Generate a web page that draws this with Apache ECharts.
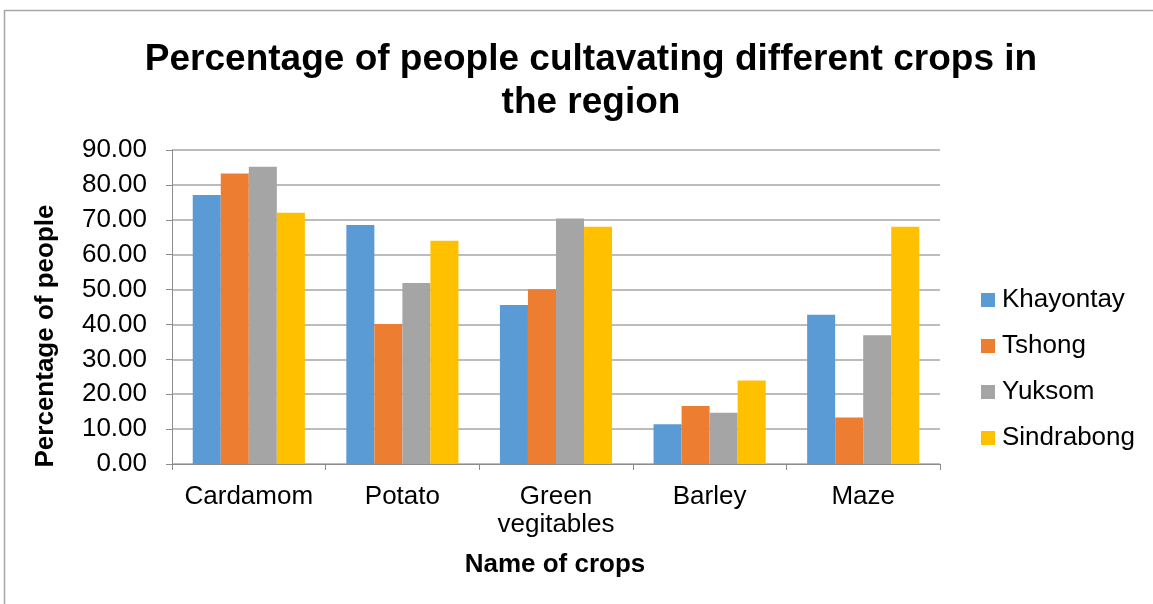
<!DOCTYPE html>
<html>
<head>
<meta charset="utf-8">
<script src="https://cdn.jsdelivr.net/npm/echarts@6/dist/echarts.min.js"></script>
<style>
  html, body { margin: 0; padding: 0; background: #fff; }
  #chart { width: 1153px; height: 604px; }
</style>
</head>
<body>
<div id="chart"></div>
<script>
// Crops surveyed and share of people growing each, by village
const crops = ['Cardamom', 'Potato', 'Green\nvegitables', 'Barley', 'Maze'];
const khayontay = [77.1, 68.5, 45.6, 11.4, 42.8];
const tshong = [83.3, 40.1, 50.1, 16.6, 13.3];
const yuksom = [85.2, 51.9, 70.4, 14.7, 36.9];
const sindrabong = [72.0, 64.0, 68.0, 23.9, 68.0];

const seriesNames = ['Khayontay', 'Tshong', 'Yuksom', 'Sindrabong'];
const seriesData = [khayontay, tshong, yuksom, sindrabong];
const colors = ['#5B9BD5', '#ED7D31', '#A5A5A5', '#FFC000'];

const font = '"Liberation Sans", Arial, sans-serif';
const chart = echarts.init(document.getElementById('chart'));

chart.setOption({
  animation: false,
  backgroundColor: '#fff',
  color: colors,
  title: {
    text: 'Percentage of people cultavating different crops in\nthe region',
    left: 586,
    textAlign: 'center',
    top: 33,
    textStyle: {
      fontFamily: font, fontSize: 37, fontWeight: 'bold', color: '#000', lineHeight: 43
    }
  },
  legend: {
    orient: 'vertical',
    left: 976,
    top: 280,
    itemWidth: 14,
    itemHeight: 14,
    itemGap: 16,
    icon: 'rect',
    textStyle: { fontFamily: font, fontSize: 26, color: '#000', padding: [0, 0, 0, 2], lineHeight: 30 },
    data: seriesNames
  },
  grid: { left: 172, right: 213, top: 150, bottom: 140, containLabel: false },
  xAxis: {
    type: 'category',
    data: crops,
    axisLine: { lineStyle: { color: '#8c8c8c', width: 1 } },
    axisTick: { show: true, length: 6, lineStyle: { color: '#8c8c8c' } },
    axisLabel: {
      interval: 0,
      hideOverlap: false,
      fontFamily: font, fontSize: 26, color: '#000', margin: 19, lineHeight: 28
    }
  },
  yAxis: {
    type: 'value',
    min: 0,
    max: 90,
    interval: 10,
    axisLine: { show: true, lineStyle: { color: '#8c8c8c' } },
    axisTick: { show: true, length: 6, lineStyle: { color: '#8c8c8c' } },
    splitLine: { lineStyle: { color: '#a6a6a6', width: 1.5 } },
    axisLabel: {
      fontFamily: font, fontSize: 26, color: '#000', margin: 25,
      formatter: v => v.toFixed(2)
    }
  },
  graphic: [{
    type: 'rect',
    shape: { x: 4.5, y: 10.5, width: 1200, height: 700 },
    style: { fill: 'none', stroke: '#a6a6a6', lineWidth: 1.5 },
    silent: true
  }, {
    // axis titles
    type: 'text',
    x: 46,
    y: 336,
    rotation: Math.PI / 2,
    style: {
      text: 'Percentage of people',
      font: 'bold 26px ' + font,
      fill: '#000',
      align: 'center',
      verticalAlign: 'middle'
    },
    silent: true
  }, {
    type: 'text',
    x: 555,
    y: 565,
    style: {
      text: 'Name of crops',
      font: 'bold 26px ' + font,
      fill: '#000',
      align: 'center',
      verticalAlign: 'middle'
    },
    silent: true
  }],
  series: seriesNames.map((name, i) => ({
    name: name,
    type: 'bar',
    data: seriesData[i],
    barGap: '0%',
    barCategoryGap: '27%',
    itemStyle: { color: colors[i] }
  }))
});
</script>
</body>
</html>
